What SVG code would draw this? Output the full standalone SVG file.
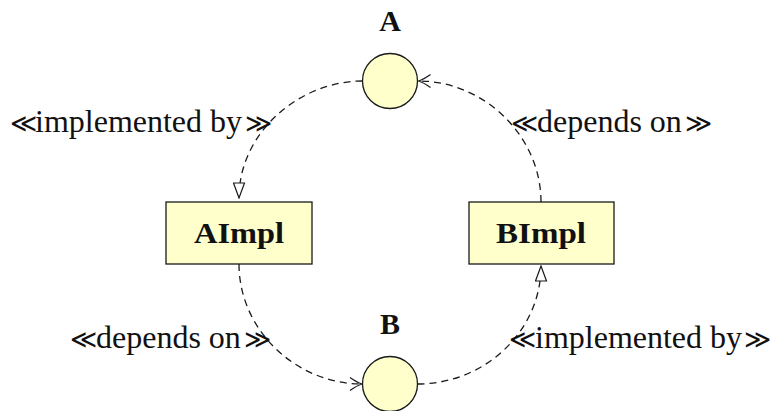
<svg xmlns="http://www.w3.org/2000/svg" width="771" height="411" viewBox="0 0 771 411">
  <style>
    .shape { fill: #ffffcc; stroke: #1a1a1a; stroke-width: 1.3; }
    .title { font-family: "Liberation Serif", serif; font-weight: bold; font-size: 30px; fill: #111; text-anchor: middle; }
    .label { font-family: "Liberation Serif", serif; font-size: 32px; fill: #111; }
    .guil { font-family: "DejaVu Sans", sans-serif; font-weight: 200; font-size: 26px; }
    .dep { fill: none; stroke: #1a1a1a; stroke-width: 1.3; stroke-dasharray: 7 5; }
  </style>
  <defs>
    <marker id="open-tri" viewBox="0 0 17 13" refX="16" refY="6.5" markerWidth="17" markerHeight="13" markerUnits="userSpaceOnUse" orient="auto">
      <path d="M1,1 L16,6.5 L1,12 Z" fill="#ffffff" stroke="#1a1a1a" stroke-width="1.2"/>
    </marker>
    <marker id="open-vee" viewBox="0 0 15 15" refX="14" refY="7.5" markerWidth="15" markerHeight="15" markerUnits="userSpaceOnUse" orient="auto">
      <path d="M2,1 Q9,6 14,7.5 Q9,9 2,14" fill="none" stroke="#1a1a1a" stroke-width="1.2"/>
    </marker>
  </defs>

  <!-- interface A -->
  <g id="A">
    <circle class="shape" cx="390" cy="81" r="27.5"/>
    <text class="title" x="390" y="31">A</text>
  </g>

  <!-- interface B -->
  <g id="B">
    <circle class="shape" cx="390" cy="384" r="27.5"/>
    <text class="title" x="390" y="334">B</text>
  </g>

  <!-- implementation of A -->
  <g id="AImpl">
    <rect class="shape" x="166" y="202" width="146" height="62"/>
    <text class="title" x="239" y="243" textLength="90" lengthAdjust="spacingAndGlyphs">AImpl</text>
  </g>

  <!-- implementation of B -->
  <g id="BImpl">
    <rect class="shape" x="469" y="202" width="145" height="62"/>
    <text class="title" x="541" y="243" textLength="90" lengthAdjust="spacingAndGlyphs">BImpl</text>
  </g>

  <!-- dependency and realisation connectors -->
  <g id="connectors">
    <path class="dep" d="M362.5,81 C300,81 239,132 239,198" marker-end="url(#open-tri)"/>
    <path class="dep" d="M541,202 C541,136 484,81 418.5,81" marker-end="url(#open-vee)"/>
    <path class="dep" d="M239,264 C239,330 296,384 362,384" marker-end="url(#open-vee)"/>
    <path class="dep" d="M417.5,384 C484,384 541,332 541,266" marker-end="url(#open-tri)"/>
    <text class="label" y="132"><tspan class="guil" x="10">≪</tspan><tspan x="35">implemented by</tspan><tspan class="guil" x="245">≫</tspan></text>
    <text class="label" y="132"><tspan class="guil" x="511">≪</tspan><tspan x="537">depends on</tspan><tspan class="guil" x="685">≫</tspan></text>
    <text class="label" y="348"><tspan class="guil" x="70">≪</tspan><tspan x="96">depends on</tspan><tspan class="guil" x="244">≫</tspan></text>
    <text class="label" y="348"><tspan class="guil" x="509">≪</tspan><tspan x="535">implemented by</tspan><tspan class="guil" x="744">≫</tspan></text>
  </g>
</svg>
